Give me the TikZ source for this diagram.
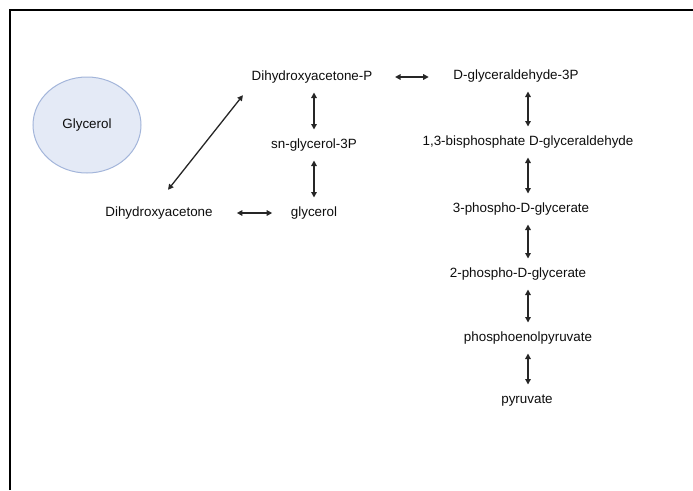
\documentclass[tikz,border=0pt]{standalone}
\usepackage{fontspec}
\setmainfont{Liberation Sans}
\usetikzlibrary{arrows.meta,shapes.geometric}
\definecolor{cellfill}{HTML}{E4EAF6}
\definecolor{cellline}{HTML}{A3B5DA}
\begin{document}
\begin{tikzpicture}[x=1pt,y=-1pt,
    every node/.style={font=\fontsize{13.4}{16}\selectfont, text=black!95,
      inner sep=3pt, text height=9.8pt, text depth=2.8pt},
    link/.style={{Triangle[length=5.5pt,width=5.5pt]}-{Triangle[length=5.5pt,width=5.5pt]},
      line width=1.3pt, draw=black!85, shorten <=6pt, shorten >=6pt}]
  \useasboundingbox (0,0) rectangle (693,490);
  % frame
  \draw[line width=1.8pt] (10,490) |- (693,10);
  % the cell
  \node[ellipse, draw=cellline, fill=cellfill, line width=1pt,
    minimum width=108pt, minimum height=96pt] (cell) at (87,125) {Glycerol};
  % glycerol entry
  \node (dhap) at (312,77) {Dihydroxyacetone-P};
  \node (sn) at (314,145) {sn-glycerol-3P};
  \node (gly) at (314,213) {glycerol};
  \node (dha) at (159,213) {Dihydroxyacetone};
  % lower glycolysis
  \node (g3p) at (516,76) {D-glyceraldehyde-3P};
  \node (bpg) at (528,142) {1,3-bisphosphate D-glyceraldehyde};
  \node (pg3) at (521,209) {3-phospho-D-glycerate};
  \node (pg2) at (518,274) {2-phospho-D-glycerate};
  \node (pep) at (528,338) {phosphoenolpyruvate};
  \node (pyr) at (527,400) {pyruvate};
  % reactions
  \draw[link] (dhap.south -| sn) -- (sn.north);
  \draw[link] (sn) -- (gly);
  \draw[link, shorten <=21pt, shorten >=15.5pt] (dha.east) -- (gly.west);
  \draw[link, shorten <=0pt, shorten >=0pt]
    ([xshift=9pt,yshift=13.7pt]dha.north) -- ([xshift=-5.5pt,yshift=-8.7pt]dhap.south west);
  \draw[link, shorten <=19.5pt, shorten >=21.5pt] (dhap.east) -- (dhap.east -| g3p.west);
  \foreach \a/\b in {g3p/bpg, bpg/pg3, pg3/pg2, pg2/pep, pep/pyr}
    \draw[link] (\a.south -| pep) -- (\b.north -| pep);
\end{tikzpicture}
\end{document}
